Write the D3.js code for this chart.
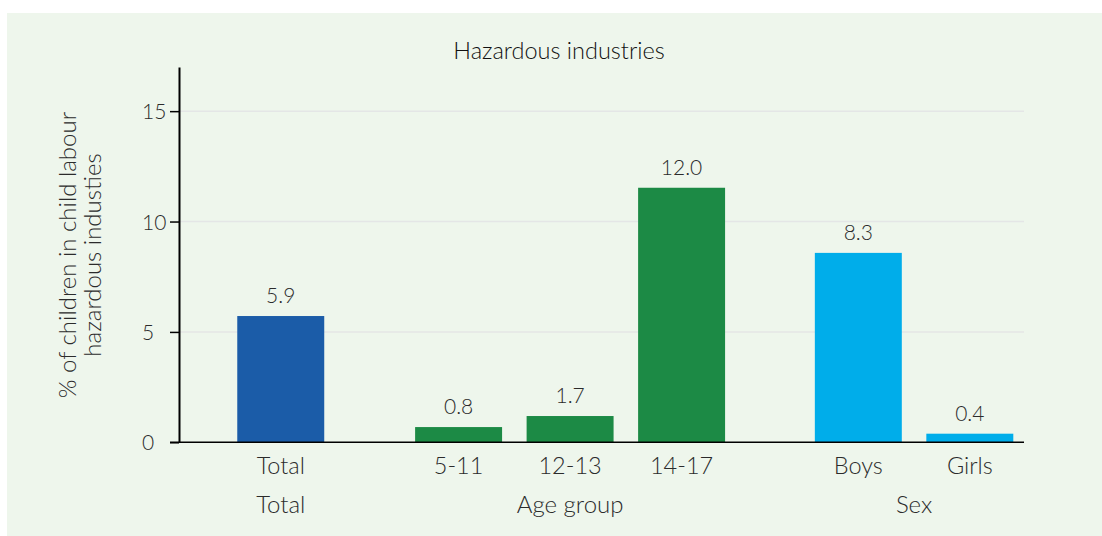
<!DOCTYPE html>
<meta charset="utf-8">
<title>Hazardous industries</title>
<style>
  body { margin: 0; background: #fff; }
  text { font-family: Lato, "Open Sans", sans-serif; font-weight: 300; fill: #2b2b2b; }
  .grid line { stroke: #e4e6e6; stroke-width: 1.5px; }
</style>
<body>
<script src="https://cdn.jsdelivr.net/npm/d3@7"></script>
<script>

var width = 1102,
    height = 536;

// categories, grouped
var groups = ["Total", "Age group", "Sex"];
var categories = ["Total", "5-11", "12-13", "14-17", "Boys", "Girls"];
var catGroup = ["Total", "Age group", "Age group", "Age group", "Sex", "Sex"];

// bar heights as drawn, and the printed labels
var barValues = [5.72, 0.69, 1.19, 11.53, 8.58, 0.39];
var valueLabels = ["5.9", "0.8", "1.7", "12.0", "8.3", "0.4"];

var yTicks = [0, 5, 10, 15];

var colors = {"Total": "#1b5ca8", "Age group": "#1c8a45", "Sex": "#00adea"};

// slot offsets of each group (in bar slots, gaps between groups)
var groupStart = {"Total": 0, "Age group": 1.595, "Sex": 5.18};

var svg = d3.select("body").append("svg")
    .attr("width", width)
    .attr("height", height);

svg.append("rect")
    .attr("x", 7).attr("y", 13)
    .attr("width", width - 7).attr("height", height - 13)
    .attr("fill", "#eef6ec");

var y = d3.scaleLinear().domain([0, 17]).range([442.3, 67]);
var slot = d3.scaleLinear().domain([0, 7.2]).range([225, 1027.8]);

function slotIndex(i) {
  var g = catGroup[i];
  var first = catGroup.indexOf(g);
  return groupStart[g] + (i - first);
}
var bw = slot(0.78) - slot(0);

// grid
svg.append("g").attr("class", "grid")
  .selectAll("line").data(yTicks.filter(function(d) { return d > 0; }))
  .enter().append("line")
    .attr("x1", 179).attr("x2", 1024)
    .attr("y1", function(d) { return y(d); })
    .attr("y2", function(d) { return y(d); });

// bars
svg.selectAll(".bar").data(barValues)
  .enter().append("rect")
    .attr("class", "bar")
    .attr("x", function(d, i) { return slot(slotIndex(i) + 0.5) - bw / 2; })
    .attr("width", bw)
    .attr("y", function(d) { return y(d); })
    .attr("height", function(d) { return y(0) - y(d); })
    .attr("fill", function(d, i) { return colors[catGroup[i]]; });

// value labels
svg.selectAll(".val").data(valueLabels)
  .enter().append("text")
    .attr("class", "val")
    .attr("x", function(d, i) { return slot(slotIndex(i) + 0.5); })
    .attr("y", function(d, i) { return y(barValues[i]) - 13; })
    .attr("text-anchor", "middle")
    .style("font-size", "21px")
    .text(function(d) { return d; });

// y axis
var yAxis = d3.axisLeft(y).tickValues(yTicks).tickSize(9).tickSizeOuter(0);
var ya = svg.append("g").attr("transform", "translate(179,0)").call(yAxis);
ya.select(".domain").attr("stroke", "#000").attr("stroke-width", 2);
ya.selectAll(".tick line").attr("stroke", "#000").attr("stroke-width", 1.5);
ya.selectAll(".tick text")
    .attr("text-anchor", "start")
    .attr("x", -37)
    .attr("dy", "0.36em")
    .style("font-size", "21px")
    .style("fill", "#2b2b2b");

// baseline
svg.append("line")
    .attr("x1", 170).attr("x2", 1024)
    .attr("y1", y(0)).attr("y2", y(0))
    .attr("stroke", "#000").attr("stroke-width", 1.5);

// category labels
svg.selectAll(".cat").data(categories)
  .enter().append("text")
    .attr("class", "cat")
    .attr("x", function(d, i) { return slot(slotIndex(i) + 0.5); })
    .attr("y", 474)
    .attr("text-anchor", "middle")
    .style("font-size", "23.5px")
    .text(function(d) { return d; });

// group labels
svg.selectAll(".grp").data(groups)
  .enter().append("text")
    .attr("class", "grp")
    .attr("x", function(g) {
      var idx = [];
      catGroup.forEach(function(c, i) { if (c == g) idx.push(slotIndex(i)); });
      return slot((d3.min(idx) + d3.max(idx) + 1) / 2);
    })
    .attr("y", 513)
    .attr("text-anchor", "middle")
    .style("font-size", "24px")
    .text(function(d) { return d; });

// title
svg.append("text")
    .attr("x", 559).attr("y", 59)
    .attr("text-anchor", "middle")
    .style("font-size", "23.5px")
    .style("fill", "#111")
    .text("Hazardous industries");

// y label
var yl = svg.append("text")
    .attr("transform", "translate(0,255) rotate(-90)")
    .attr("text-anchor", "middle")
    .style("font-size", "24px");
yl.append("tspan").attr("x", 0).attr("y", 76).text("% of children in child labour");
yl.append("tspan").attr("x", 0).attr("y", 101).text("hazardous industies");

</script>
